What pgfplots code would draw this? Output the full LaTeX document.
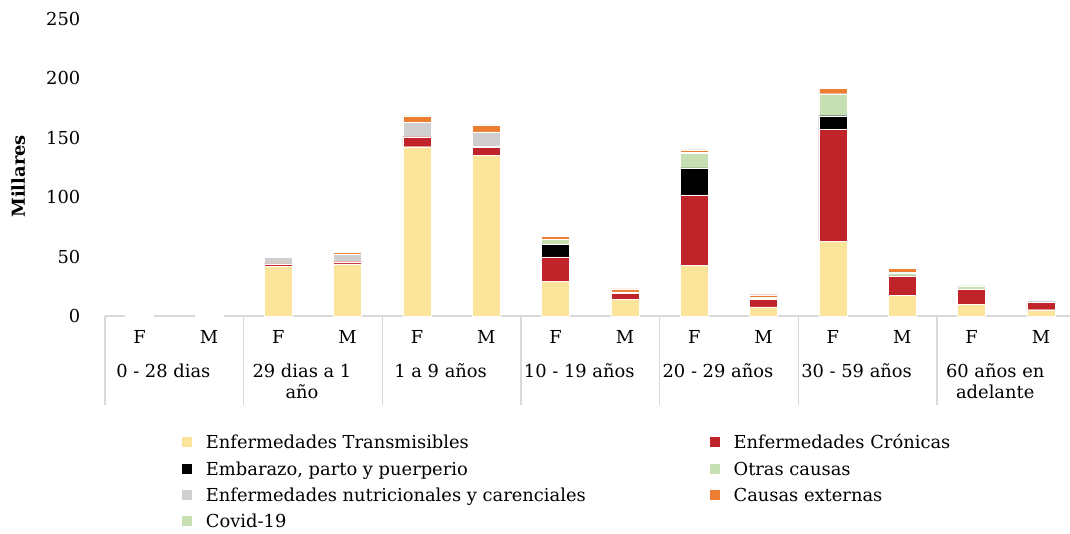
\documentclass[border=0pt]{standalone}
\usepackage{fontspec}
\setmainfont{DejaVu Serif}
\usepackage{pgfplots}
\usepackage{pgfplotstable}
\pgfplotsset{compat=1.18}
\definecolor{cT}{HTML}{FCE49A}
\definecolor{cC}{HTML}{C0232A}
\definecolor{cE}{HTML}{000000}
\definecolor{cO}{HTML}{C6E0B4}
\definecolor{cN}{HTML}{D0CECE}
\definecolor{cX}{HTML}{ED7D31}
\definecolor{cV}{HTML}{C6E0B4}
\definecolor{sep}{HTML}{D9D9D9}
\newcommand{\fs}{\fontsize{13.4pt}{16pt}\selectfont}
\pgfplotsset{sq/.style={legend image code/.code={\fill[##1,draw=none] (0pt,-3.75pt) rectangle (7.5pt,3.75pt); \path[draw=none,fill=none] (0pt,0pt) rectangle (15.75pt,0.1pt);}}}

\pgfplotstableread{
x T C E O N X V
0  0.6 0.8 0 0 0 0.6 0
1  0.6 0.8 0 0 0 0.6 0
2  42.0 1.8 0 0.2 5.4 0.8 0.3
3  43.8 1.9 0 0.2 6.3 1.5 0.2
4  142.5 8.4 0 0.3 11.8 5.3 0.3
5  135.5 6.5 0 0.6 12.3 5.6 0.3
6  28.9 20.8 10.6 4.0 0.2 2.3 0.3
7  14.3 4.5 0 0.3 1.2 2.6 0.3
8  42.4 59.5 22.7 12.6 0.3 2.4 0.4
9  7.6 6.7 0 1.0 0.2 2.4 0.2
10 62.6 94.8 11.2 18.2 0.3 4.8 0.6
11 17.1 16.6 0 2.6 0.2 3.7 0.2
12 9.8 12.9 0 2.8 0.3 0.8 0.2
13 5.3 5.9 0 0.4 1.6 0.8 0.2
}\data

\begin{document}
\begin{tikzpicture}
\path[use as bounding box] (0,0) rectangle (802.5pt,399.75pt);
\begin{axis}[
 at={(78.75pt,162.75pt)}, anchor=south west,
 scale only axis, width=723.75pt, height=222.75pt,
 ybar stacked, bar width=21pt,
 xmin=-0.5, xmax=13.42, ymin=0, ymax=250,
 ytick={0,50,100,150,200,250},
 xtick={0,...,13},
 xticklabels={F,M,F,M,F,M,F,M,F,M,F,M,F,M},
 major tick length=0pt,
 axis x line*=bottom, axis y line*=left,
 x axis line style={draw=sep, line width=1.1pt, -},
 y axis line style={draw=none, -},
 tick label style={font=\fs},
 /pgf/number format/assume math mode=true,
 xticklabel style={anchor=base, yshift=-20.25pt},
 yticklabel style={anchor=east, xshift=-15pt},
 ylabel={\bfseries Millares},
 ylabel style={font=\fs, at={(axis description cs:-0.09,0.47)}, anchor=center},
 clip=false,
 every axis plot/.append style={draw=white, line width=0.3pt},
 legend style={draw=none, fill=none, inner sep=0pt,
   at={(axis description cs:0.0798,-0.397)}, anchor=north west,
   font=\fs, row sep=7.75pt,
   nodes={inner xsep=2pt, inner ysep=1pt, text height=10pt, text depth=0pt},
   cells={anchor=west}},
 legend columns=2,
]
\addplot[fill=cT, sq] table[x=x,y=T] \data; \addlegendentry{\makebox[376pt][l]{Enfermedades Transmisibles}}
\addplot[fill=cC, sq] table[x=x,y=C] \data; \addlegendentry{Enfermedades Crónicas}
\addplot[fill=cE, sq] table[x=x,y=E] \data; \addlegendentry{\makebox[376pt][l]{Embarazo, parto y puerperio}}
\addplot[fill=cO, sq] table[x=x,y=O] \data; \addlegendentry{Otras causas}
\addplot[fill=cN, sq] table[x=x,y=N] \data; \addlegendentry{\makebox[376pt][l]{Enfermedades nutricionales y carenciales}}
\addplot[fill=cX, sq] table[x=x,y=X] \data; \addlegendentry{Causas externas}
\addplot[fill=cV, sq] table[x=x,y=V] \data; \addlegendentry{\makebox[376pt][l]{Covid-19}}

\draw[sep, line width=1.1pt] (axis cs:-0.5,0) -- ++(0pt,-66.75pt);
\draw[sep, line width=1.1pt] (axis cs:1.5,0) -- ++(0pt,-66.75pt);
\draw[sep, line width=1.1pt] (axis cs:3.5,0) -- ++(0pt,-66.75pt);
\draw[sep, line width=1.1pt] (axis cs:5.5,0) -- ++(0pt,-66.75pt);
\draw[sep, line width=1.1pt] (axis cs:7.5,0) -- ++(0pt,-66.75pt);
\draw[sep, line width=1.1pt] (axis cs:9.5,0) -- ++(0pt,-66.75pt);
\draw[sep, line width=1.1pt] (axis cs:11.5,0) -- ++(0pt,-66.75pt);

\node[font=\fs, anchor=base] at ([xshift=-8.25pt,yshift=-45.75pt]axis cs:0.5,0) {0 - 28 dias};
\node[font=\fs, anchor=base] at ([xshift=-8.25pt,yshift=-45.75pt]axis cs:2.5,0) {29 dias a 1};
\node[font=\fs, anchor=base] at ([xshift=-8.25pt,yshift=-61.5pt]axis cs:2.5,0) {año};
\node[font=\fs, anchor=base] at ([xshift=-8.25pt,yshift=-45.75pt]axis cs:4.5,0) {1 a 9 años};
\node[font=\fs, anchor=base] at ([xshift=-8.25pt,yshift=-45.75pt]axis cs:6.5,0) {10 - 19 años};
\node[font=\fs, anchor=base] at ([xshift=-8.25pt,yshift=-45.75pt]axis cs:8.5,0) {20 - 29 años};
\node[font=\fs, anchor=base] at ([xshift=-8.25pt,yshift=-45.75pt]axis cs:10.5,0) {30 - 59 años};
\node[font=\fs, anchor=base] at ([xshift=-8.25pt,yshift=-45.75pt]axis cs:12.5,0) {60 años en};
\node[font=\fs, anchor=base] at ([xshift=-8.25pt,yshift=-61.5pt]axis cs:12.5,0) {adelante};
\end{axis}
\end{tikzpicture}
\end{document}
